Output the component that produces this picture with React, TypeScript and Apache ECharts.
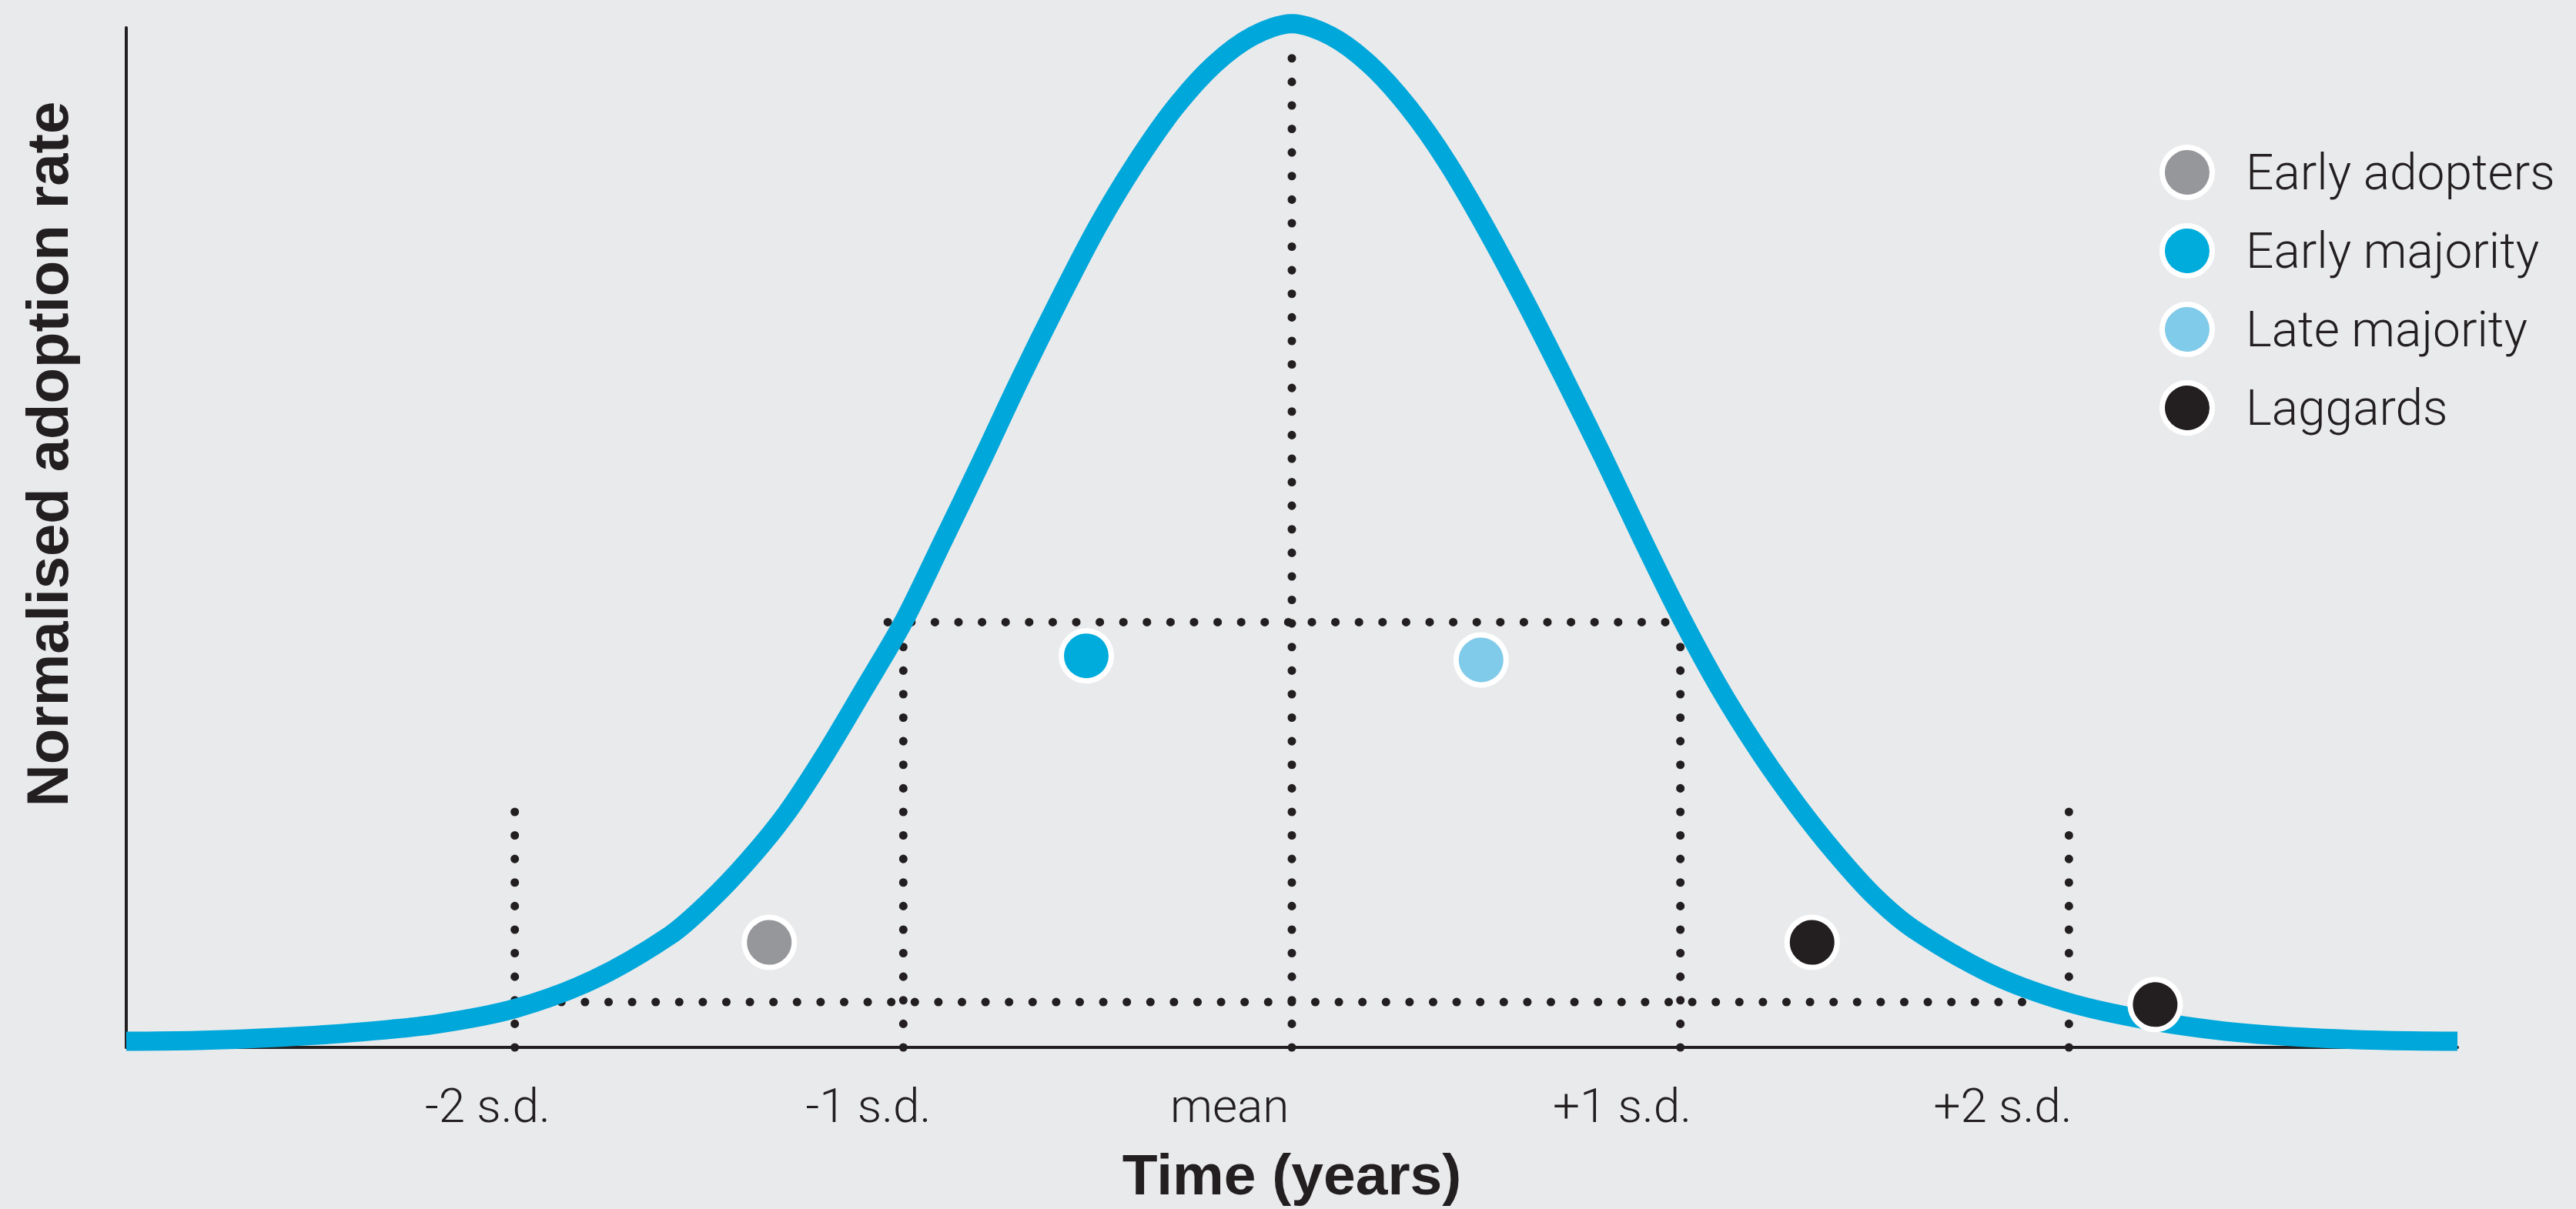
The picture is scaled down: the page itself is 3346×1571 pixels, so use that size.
import React, { useEffect, useRef } from "react";
import * as echarts from "echarts";

// Bell curve (x in standard deviations, y normalised 0-100)
const curveX = [-3.0, -2.8, -2.6, -2.4, -2.2, -2.0, -1.8, -1.6, -1.5, -1.4, -1.3, -1.2, -1.1, -1.0, -0.9, -0.8, -0.7, -0.6, -0.5, -0.4, -0.3, -0.2, -0.1, 0, 0.1, 0.2, 0.3, 0.4, 0.5, 0.6, 0.7, 0.8, 0.9, 1.0, 1.1, 1.2, 1.3, 1.4, 1.5, 1.6, 1.8, 2.0, 2.2, 2.4, 2.6, 2.8, 3.0];
const curveY = [0.6, 0.7, 1.0, 1.5, 2.3, 3.8, 6.6, 11.0, 14.3, 18.3, 23.0, 28.8, 35.2, 41.7, 49.5, 57.4, 65.5, 73.2, 80.5, 86.8, 92.2, 96.4, 99.2, 100.4, 99.2, 96.4, 92.2, 86.8, 80.3, 73.2, 65.7, 58.0, 50.0, 42.3, 35.3, 29.2, 23.8, 19.0, 14.8, 11.6, 7.2, 4.4, 2.7, 1.6, 1.0, 0.7, 0.6];

// Tick labels and where their centres sit
const tickLabels = ["-2 s.d.", "-1 s.d.", "mean", "+1 s.d.", "+2 s.d."];
const labelPositions = [-2.07, -1.09, -0.16, 0.85, 1.83];

// Dotted guides
const guideX = [-2, -1, 0, 1, 2];
const guideTop = [24.2, 41.7, 98.2, 41.7, 24.2];
const hGuideY = [41.7, 4.45];
const hGuideFrom = [-1.04, -1.88];
const hGuideTo = [1.04, 1.9];

// Adopter groups
const legendNames = ["Early adopters", "Early majority", "Late majority", "Laggards"];
const groupColors = ["#96979b", "#00acdc", "#80cbe9", "#231f20"];
const earlyAdopters = [[-1.345, 10.3]];
const earlyMajority = [[-0.529, 38.4]];
const lateMajority = [[0.487, 38.0]];
const laggards = [[1.339, 10.3], [2.222, 4.2]];
const groupData = [earlyAdopters, earlyMajority, lateMajority, laggards];

const INK = "#231f20";

export default function App() {
  const ref = useRef<HTMLDivElement>(null);
  useEffect(() => {
    if (!ref.current) return;
    const chart = echarts.init(ref.current, undefined, { renderer: "svg" });
    const dotStyle = { color: INK, width: 11, type: [0.1, 30.5], cap: "round" };
    const series: any[] = [];
    guideX.forEach((x, i) => {
      series.push({
        type: "line",
        data: [[x, 0], [x, guideTop[i]]],
        symbol: "none",
        silent: true,
        clip: false,
        z: 1,
        lineStyle: dotStyle,
      });
    });
    hGuideY.forEach((y, i) => {
      series.push({
        type: "line",
        data: [[hGuideFrom[i], y], [hGuideTo[i], y]],
        symbol: "none",
        silent: true,
        clip: false,
        z: 1,
        lineStyle: dotStyle,
      });
    });
    series.push({
      type: "line",
      data: curveX.map((x, i) => [x, curveY[i]]),
      smooth: 0.3,
      symbol: "none",
      silent: true,
      clip: false,
      z: 3,
      lineStyle: { color: "#00a7da", width: 25 },
    });
    legendNames.forEach((name, i) => {
      series.push({
        name,
        type: "scatter",
        data: groupData[i],
        symbol: "circle",
        symbolSize: 65,
        z: 5,
        itemStyle: { color: groupColors[i], borderColor: "#ffffff", borderWidth: 7, opacity: 1 },
      });
    });

    chart.setOption({
      animation: false,
      backgroundColor: "#e9eaec",
      grid: { left: 164, right: 154, top: 36, bottom: 210, containLabel: false, outerBoundsMode: "none" },
      xAxis: {
        type: "value",
        min: -3,
        max: 3,
        axisLine: { show: true, onZero: false, lineStyle: { color: INK, width: 4 } },
        axisTick: { show: false },
        splitLine: { show: false },
        axisLabel: {
          customValues: labelPositions,
          formatter: (v: number) => {
            let best = 0;
            labelPositions.forEach((p, i) => {
              if (Math.abs(p - v) < Math.abs(labelPositions[best] - v)) best = i;
            });
            return tickLabels[best];
          },
          color: INK,
          fontSize: 62,
          fontFamily: "Roboto",
          fontWeight: 300,
          margin: 44,
        },
        name: "Time (years)",
        nameLocation: "middle",
        nameGap: 127,
        nameTextStyle: { fontSize: 75, fontWeight: "bold", fontFamily: "Liberation Sans", color: INK },
      },
      yAxis: {
        type: "value",
        min: 0,
        max: 100,
        axisLine: { show: true, onZero: false, lineStyle: { color: INK, width: 4 } },
        axisTick: { show: false },
        axisLabel: { show: false },
        splitLine: { show: false },
      },
      legend: {
        orient: "vertical",
        left: 2805,
        top: 188,
        padding: 0,
        itemWidth: 142,
        itemHeight: 65,
        itemGap: 30,
        icon: "circle",
        selectedMode: false,
        data: legendNames,
        itemStyle: { borderColor: "#ffffff", borderWidth: 7 },
        textStyle: { fontSize: 64, fontFamily: "Roboto", fontWeight: 300, color: INK, lineHeight: 65 },
      },
      graphic: [
        {
          type: "text",
          x: 61,
          y: 590,
          rotation: Math.PI / 2,
          style: {
            text: "Normalised adoption rate",
            font: 'bold 76px "Liberation Sans"',
            fill: INK,
            align: "center",
            verticalAlign: "middle",
          },
        },
      ],
      series,
    });
    return () => chart.dispose();
  }, []);
  return <div ref={ref} style={{ position: "absolute", left: 0, top: 0, width: 3346, height: 1571 }} />;
}
